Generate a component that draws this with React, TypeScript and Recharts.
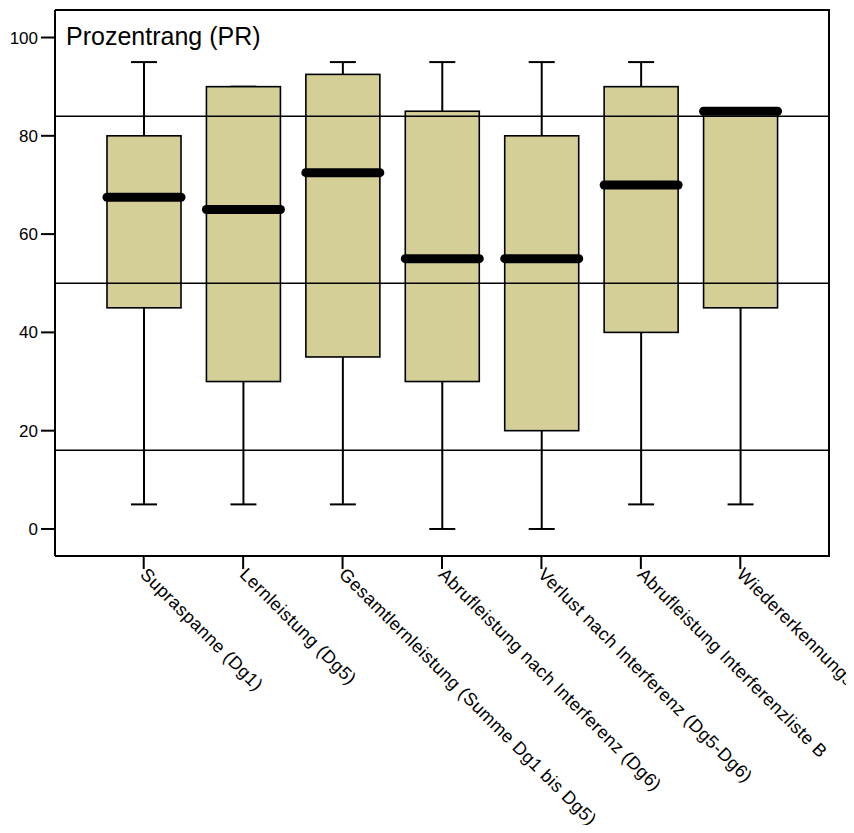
import { ComposedChart, Bar, XAxis, YAxis, ReferenceLine } from "recharts";

// Percentile ranks per subtest: whisker ends, quartiles, median
const CATEGORIES = [
  "Supraspanne (Dg1)",
  "Lernleistung (Dg5)",
  "Gesamtlernleistung (Summe Dg1 bis Dg5)",
  "Abrufleistung nach Interferenz (Dg6)",
  "Verlust nach Interferenz (Dg5-Dg6)",
  "Abrufleistung Interferenzliste B",
  "Wiedererkennungsleistung",
];
const MIN = [5, 5, 5, 0, 0, 5, 5];
const Q1 = [45, 30, 35, 30, 20, 40, 45];
const MEDIAN = [67.5, 65, 72.5, 55, 55, 70, 85];
const Q3 = [80, 90, 92.5, 85, 80, 90, 85];
const MAX = [95, 90, 95, 95, 95, 95, 85];

const Y_TICKS = [0, 20, 40, 60, 80, 100];
const NORM_LINES = [84, 50, 16];

const rows = CATEGORIES.map((name, i) => ({
  name,
  min: MIN[i],
  q1: Q1[i],
  median: MEDIAN[i],
  q3: Q3[i],
  max: MAX[i],
}));

const FONT = "'Liberation Sans', Arial, Helvetica, sans-serif";
const BOX_FILL = "#d3cf97";

// range bar spans min..max; the rest is placed by interpolating inside it
const BoxShape = (props: any) => {
  const { x, y, width, height, payload } = props;
  const top = Math.min(y, y + height);
  const bottom = Math.max(y, y + height);
  const span = bottom - top;
  const range = payload.max - payload.min || 1;
  const py = (v: number) => bottom - ((v - payload.min) / range) * span;
  const cx = x + width / 2;
  const cap = 13;
  const yq1 = py(payload.q1);
  const yq3 = py(payload.q3);
  const ymed = py(payload.median);
  return (
    <g>
      <line x1={cx} x2={cx} y1={py(payload.max)} y2={yq3} stroke="#000" strokeWidth={2} />
      <line x1={cx} x2={cx} y1={yq1} y2={py(payload.min)} stroke="#000" strokeWidth={2} />
      <line x1={cx - cap} x2={cx + cap} y1={py(payload.max)} y2={py(payload.max)} stroke="#000" strokeWidth={2} />
      <line x1={cx - cap} x2={cx + cap} y1={py(payload.min)} y2={py(payload.min)} stroke="#000" strokeWidth={2} />
      <rect x={x} y={yq3} width={width} height={yq1 - yq3} fill={BOX_FILL} stroke="#000" strokeWidth={1.6} />
      <line x1={x} x2={x + width} y1={ymed} y2={ymed} stroke="#000" strokeWidth={9} strokeLinecap="round" />
    </g>
  );
};

const SlantTick = (props: any) => {
  const { x, y, payload } = props;
  return (
    <g transform={`translate(${x},${y})`}>
      <text
        transform="rotate(45)"
        dy="0.35em"
        textAnchor="start"
        fontFamily={FONT}
        fontSize={18}
        letterSpacing={0.45}
        fill="#000"
      >
        {payload.value}
      </text>
    </g>
  );
};

export default function App() {
  return (
    <div style={{ position: "relative", width: 846, height: 817, overflow: "hidden" }}>
      <ComposedChart
        width={846}
        height={817}
        data={rows}
        margin={{ top: 2, right: 25, left: 0, bottom: 0 }}
      >
        <XAxis
          dataKey="name"
          interval={0}
          padding={{ left: 39, right: 39 }}
          height={269}
          tickSize={13}
          tickMargin={2}
          tick={<SlantTick />}
          axisLine={{ stroke: "#000", strokeWidth: 2 }}
          tickLine={{ stroke: "#000", strokeWidth: 2 }}
        />
        <YAxis
          domain={[-5.5, 105.6]}
          ticks={Y_TICKS}
          width={47}
          tickSize={14}
          tickMargin={3}
          tick={{ fill: "#000", fontSize: 17, fontFamily: FONT }}
          axisLine={{ stroke: "#000", strokeWidth: 2 }}
          tickLine={{ stroke: "#000", strokeWidth: 2 }}
        />
        <Bar
          dataKey={(d: any) => [d.min, d.max]}
          barSize={74}
          shape={<BoxShape />}
          isAnimationActive={false}
        />
        {NORM_LINES.map((v) => (
          <ReferenceLine key={v} y={v} stroke="#000" strokeWidth={1.5} />
        ))}
      </ComposedChart>
      {/* top and right edges of the plot frame */}
      <div
        style={{
          position: "absolute",
          left: 47,
          top: 1,
          width: 773,
          height: 546,
          borderTop: "2px solid #000",
          borderRight: "2px solid #000",
          pointerEvents: "none",
        }}
      />
      <div
        style={{
          position: "absolute",
          left: 58,
          top: 16,
          fontFamily: FONT,
          fontSize: 25,
          lineHeight: 1,
          color: "#000",
          whiteSpace: "nowrap",
        }}
      >
        Prozentrang (PR)
      </div>
    </div>
  );
}
